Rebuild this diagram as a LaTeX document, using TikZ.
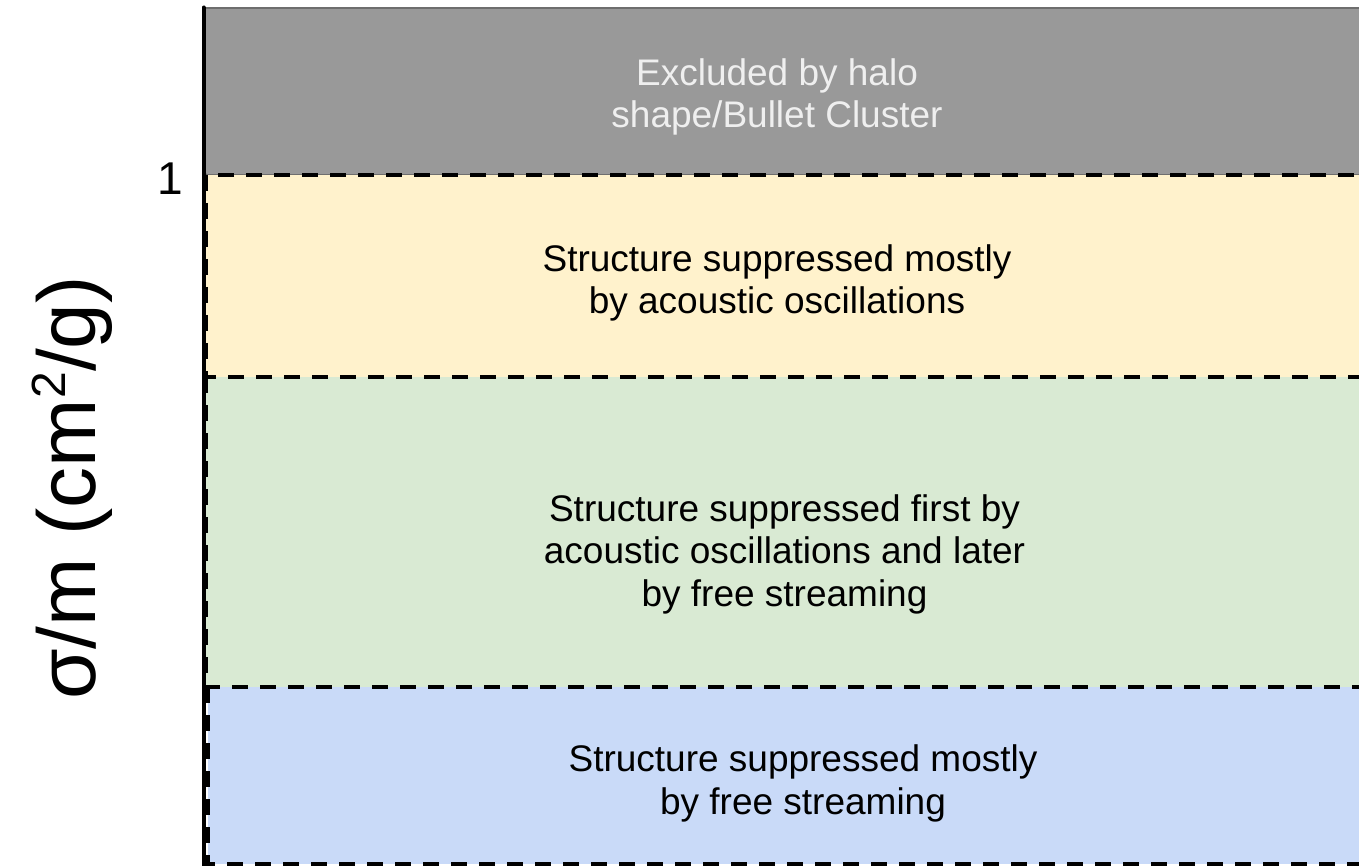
\documentclass[tikz,border=0pt]{standalone}
\usepackage{fontspec}
\setmainfont{Liberation Sans}
\definecolor{bandgray}{HTML}{999999}
\definecolor{bandgrayline}{HTML}{6E6E6E}
\definecolor{bandyellow}{HTML}{FFF2CC}
\definecolor{bandgreen}{HTML}{D9EAD3}
\definecolor{bandblue}{HTML}{C9DAF8}
\definecolor{lighttext}{HTML}{EFEFEF}
\begin{document}
\begin{tikzpicture}[x=1pt,y=-1pt,
  bandline/.style={draw=black,line width=4pt,dash pattern=on 16pt off 12pt},
  bandtext/.style={align=center,inner sep=0pt,font=\fontsize{37}{42.5}\selectfont},
]
\useasboundingbox (0,0) rectangle (1359,866);
\clip (0,0) rectangle (1359,866);
\fill[white] (0,0) rectangle (1359,866);
% band fills
\filldraw[fill=bandgray,draw=bandgrayline,line width=1.5pt] (205,8) rectangle (1390,175);
\fill[bandyellow] (206,175) rectangle (1390,377);
\fill[bandgreen] (206,377) rectangle (1390,687);
\fill[bandblue] (207.5,687) rectangle (1390,863.5);
% band borders (shared edges drawn once)
\draw[bandline] (206,175) rectangle (1390,377);
\draw[bandline] (206,377) -- (206,687) -- (1390,687);
\draw[bandline] (207.5,687) -- (207.5,863.5) -- (1390,863.5);
% axis
\coordinate (axtop) at (203.5,7.5);
\coordinate (axbot) at (203.5,870);
\draw[line width=4pt,line cap=round] (axtop) -- (axbot);
% texts
\node[bandtext,text=lighttext] (tgray) at (777,97) {Excluded by halo\\shape/Bullet Cluster};
\node[bandtext] (tyellow) at (777,283) {Structure suppressed mostly\\by acoustic oscillations};
\node[bandtext] (tgreen) at (784.5,554) {Structure suppressed first by\\acoustic oscillations and later\\by free streaming};
\node[bandtext] (tblue) at (803,783.5) {Structure suppressed mostly\\by free streaming};
\node[inner sep=0pt,font=\fontsize{46}{50}\selectfont] (one) at (170,179) {1};
\node[inner sep=0pt,rotate=90,font=\fontsize{82}{90}\selectfont] (ylabel) at (72,488) {σ/m (cm\raisebox{30pt}{\fontsize{48}{50}\selectfont 2}/g)};
\end{tikzpicture}
\end{document}
